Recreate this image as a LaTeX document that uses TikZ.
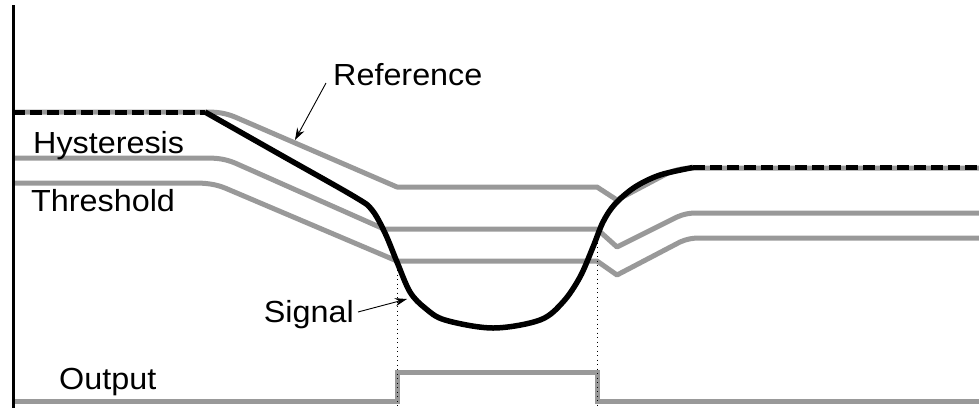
\documentclass[tikz,border=0pt]{standalone}
\usepackage{fontspec}
\setmainfont{Liberation Sans}[FakeStretch=1.06]
\usetikzlibrary{arrows.meta}
\begin{document}
\begin{tikzpicture}[x=1pt,y=-1pt,
  grayline/.style={draw=black!40, line width=5pt, line join=round},
  sigline/.style={draw=black, line width=5.5pt, line join=round},
  sigdash/.style={draw=black, line width=5pt, dash pattern=on 12pt off 5pt},
  axisline/.style={draw=black, line width=3pt},
  guide/.style={draw=black, line width=0.9pt, dash pattern=on 1pt off 3.5pt},
  lbl/.style={inner sep=0pt, font=\fontsize{30.5}{36}\selectfont},
  pointer/.style={draw=black, line width=0.9pt, -{Stealth[length=12pt,width=8pt]}}]
\useasboundingbox (0,0) rectangle (979,408);
% gray reference, hysteresis, threshold
\draw[grayline] (13,112) -- (205,112) .. controls (218,112) and (225,113) .. (235,117)
  -- (397,187) -- (597,187) -- (617,200) -- (668,173) .. controls (678,169) and (685,168) .. (695,168) -- (979,168);
\draw[grayline] (13,158) -- (205,158) .. controls (218,158) and (225,159) .. (235,163)
  -- (384,229) -- (597,229) -- (617,247) -- (677,217) .. controls (684,214) and (689,213) .. (697,213) -- (979,213);
\draw[grayline] (13,183) -- (193,183) .. controls (206,183) and (215,184) .. (225,188)
  -- (397,261) -- (597,261) -- (617,275) -- (680,242) .. controls (687,239) and (692,238) .. (700,238) -- (979,238);
% output
\draw[grayline, line join=miter] (13,401) -- (397,401) -- (397,372) -- (597,372) -- (597,401) -- (979,401);
% dotted guides
\coordinate (g1t) at (397,261);
\coordinate (g1b) at (397,408);
\coordinate (g2t) at (597,229);
\coordinate (g2b) at (597,408);
\draw[guide] (g1t) -- (g1b);
\draw[guide] (g2t) -- (g2b);
% signal
\draw[sigdash] (13,112) -- (205,112);
\draw[sigdash] (693,167.5) -- (979,167.5);
\draw[sigline] plot[smooth, tension=0.55] coordinates {(205,112) (280,154.5) (355,197) (372,210) (385,233) (397,262) (410,292) (425,308) (445,320) (493,328) (540,320) (563,302) (580,277) (593,247) (603,222) (615,204) (635,187) (660,175) (693,167.5)};
% axis
\draw[axisline] (13,5) -- (13,408);
% labels
\node[lbl, anchor=base west] (hys) at (33,153.5) {Hysteresis};
\node[lbl, anchor=base west] (thr) at (31,211) {Threshold};
\node[lbl, anchor=base west] (out) at (59,389) {Output};
\node[lbl, anchor=base west] (ref) at (333,85) {Reference};
\node[lbl, anchor=base east] (sig) at (354,322) {Signal};
\coordinate (refstart) at (326,83);
\coordinate (reftip) at (295,140);
\coordinate (sigstart) at (358,312);
\coordinate (sigtip) at (407,299);
\draw[pointer] (refstart) -- (reftip);
\draw[pointer] (sigstart) -- (sigtip);
\end{tikzpicture}
\end{document}
